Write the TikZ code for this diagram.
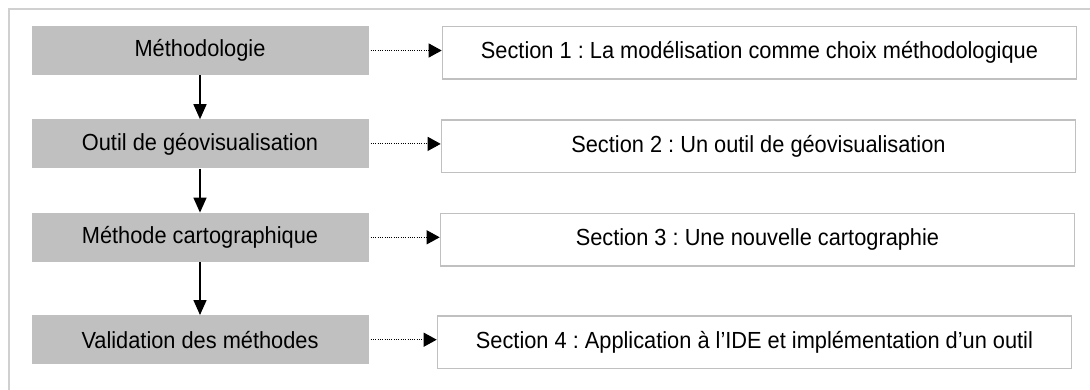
\documentclass[tikz,border=0pt]{standalone}
\usepackage{fontspec}
\setmainfont{Liberation Sans}[FakeStretch=0.935]
\usepackage{xcolor}
\usetikzlibrary{arrows.meta,positioning}
\definecolor{boxgray}{RGB}{192,192,192}
\definecolor{framegray}{RGB}{208,208,208}
\frenchspacing

\begin{document}
\begin{tikzpicture}[x=1pt, y=-1pt, font=\fontsize{23.3}{27}\selectfont,
      gbox/.style={fill=boxgray, inner sep=0pt, minimum width=337pt, minimum height=49pt},
      sbox/.style={draw=boxgray, line width=1.5pt, fill=white, inner sep=0pt,
                   minimum width=634pt, minimum height=52.5pt, anchor=north west},
      ar/.style={-{Triangle[length=15pt, width=13pt]}, line width=1.5pt},
      dar/.style={-{Triangle[length=13pt, width=14pt]}, line width=1pt,
                  dash pattern=on 1pt off 1.3pt, shorten <=2pt}]
    \useasboundingbox (0,0) rectangle (1090,389);
    % --- outer frame (only top and left edges show) ---
    \draw[framegray, line width=1.5pt] (1095,9) -- (9,9) -- (9,395);
    % --- steps (left column) ---
    \node[gbox] (meth) at (200,50.5) {Méthodologie};
    \node[gbox, below=44pt of meth] (outil) {Outil de géovisualisation};
    \node[gbox, below=44pt of outil] (carto) {Méthode cartographique};
    \node[gbox, below=53pt of carto] (valid) {Validation des méthodes};
    \draw[ar] (meth) -- (outil);
    \draw[ar] (outil) -- (carto);
    \draw[ar] (carto) -- (valid);
    % --- sections (right column) ---
    \node[sbox, right=73pt of meth.north east, anchor=north west] (sec1)
      {Section 1 : La modélisation comme choix méthodologique};
    \node[sbox, right=72pt of outil.north east, anchor=north west] (sec2)
      {Section 2 : Un outil de géovisualisation};
    \node[sbox, right=71pt of carto.north east, anchor=north west] (sec3)
      {Section 3 : Une nouvelle cartographie};
    \node[sbox, right=68pt of valid.north east, anchor=north west] (sec4)
      {Section 4 : Application à l’IDE et implémentation d’un outil};
    % each step points to its section
    \draw[dar] (meth.east) -- (meth.east -| sec1.west);
    \draw[dar] (outil.east) -- (outil.east -| sec2.west);
    \draw[dar] (carto.east) -- (carto.east -| sec3.west);
    \draw[dar] (valid.east) -- (valid.east -| sec4.west);
  \end{tikzpicture}
\end{document}
